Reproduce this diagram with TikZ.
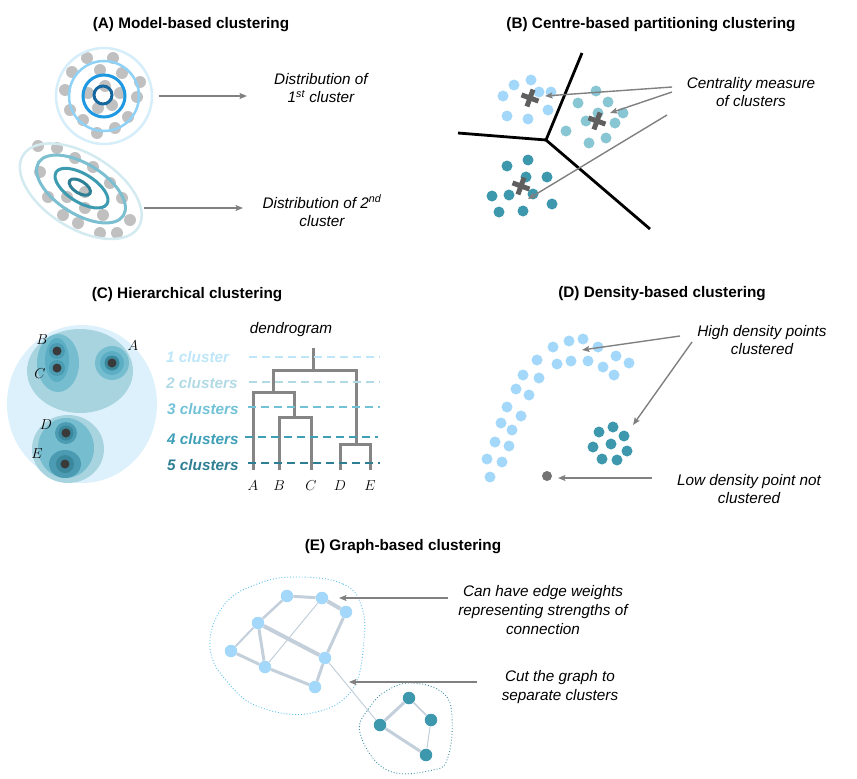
\documentclass[tikz,border=0pt]{standalone}
\usepackage{fontspec}
\setmainfont{Liberation Sans}
\usetikzlibrary{arrows.meta}

\definecolor{arrowgrey}{HTML}{808080}
\definecolor{dotgrey}{HTML}{C0C0C0}
\definecolor{ringpale}{HTML}{D5EEFA}
\definecolor{ringlight}{HTML}{8FD1F7}
\definecolor{ringmid}{HTML}{1F98E2}
\definecolor{ringdark}{HTML}{17679F}
\definecolor{ellpale}{HTML}{D3EAF0}
\definecolor{elllight}{HTML}{7BBFD0}
\definecolor{ellmid}{HTML}{3D9BB1}
\definecolor{elldark}{HTML}{2C7F94}
\definecolor{skyblue}{HTML}{A3D8FA}
\definecolor{tealmid}{HTML}{88C6D4}
\definecolor{tealdark}{HTML}{3D98AE}
\definecolor{crossgrey}{HTML}{5F5F5F}
\definecolor{treegrey}{HTML}{858585}
\definecolor{hbig}{HTML}{DCF1FB}
\definecolor{hgroup}{HTML}{A8D4E0}
\definecolor{hpair}{HTML}{76BDD0}
\definecolor{hpairin}{HTML}{5BAEC3}
\definecolor{hring}{HTML}{4B9CB2}
\definecolor{hring2}{HTML}{3B879C}
\definecolor{hcore}{HTML}{3A3A3A}
\definecolor{cl1}{HTML}{BDE6F9}
\definecolor{cl2}{HTML}{B2DAE5}
\definecolor{cl3}{HTML}{72C2D7}
\definecolor{cl4}{HTML}{3E9FB7}
\definecolor{cl5}{HTML}{2E7F93}
\definecolor{edgegrey}{HTML}{C3CFDA}
\definecolor{blobblue}{HTML}{5BC0EE}
\definecolor{blobteal}{HTML}{3C8FA3}

\begin{document}
\begin{tikzpicture}[x=1pt, y=-1pt,
    title/.style={font=\fontsize{15.3}{18}\selectfont\bfseries},
    note/.style={font=\fontsize{15.3}{18.6}\selectfont\itshape, align=center, inner sep=0pt},
    pointer/.style={draw=arrowgrey, line width=1.4pt, -{Stealth[length=7.5pt, width=6pt, inset=1.5pt]}},
    centremark/.style={draw=crossgrey, line width=5pt},
    dendro/.style={draw=treegrey, line width=3pt},
    cutline/.style={dash pattern=on 8pt off 5pt, line width=1.5pt},
    gnode/.style={circle, inner sep=0pt, minimum size=12.5pt},
    linkedge/.style={draw=edgegrey}]
\useasboundingbox (0,0) rectangle (857,779);

% (A) Model-based clustering
\node[title] (titleA) at (191,25) {(A) Model-based clustering};
\foreach \x/\y in {87/58,113/58,72/72,100/70,122/73,140/82,65/90,88/93,120/93,137/97,105/86,70/110,98/108,112/105,128/117,83/120,97/133,115/128}
  \fill[dotgrey] (\x,\y) circle (6);
\foreach \x/\y in {38/146,57/148,75/158,93/167,40/172,110/183,85/192,48/197,67/197,122/198,63/215,85/208,103/215,130/220,78/223,100/233,117/233}
  \fill[dotgrey] (\x,\y) circle (6);
\draw[ringpale, line width=2.5pt] (104,96) circle (48);
\draw[ringlight, line width=2.5pt] (104,96) circle (35);
\draw[ringmid, line width=3pt] (104,96) circle (21);
\draw[ringdark, line width=3pt] (103,95) circle (9);
\begin{scope}[rotate around={-32:(81,189)}]
  \draw[ellpale, line width=2.5pt] (82,191) ellipse [x radius=68, y radius=37];
  \draw[elllight, line width=3pt] (81,189) ellipse [x radius=50, y radius=25];
  \draw[ellmid, line width=3pt] (81,188) ellipse [x radius=30, y radius=14];
  \draw[elldark, line width=3pt] (79,188) ellipse [x radius=12, y radius=6];
\end{scope}
\node[note] (distA1) at (321,88) {Distribution of\\1\textsuperscript{st} cluster};
\node[note] (distA2) at (322,211) {Distribution of 2\textsuperscript{nd}\\cluster};
\coordinate (a1s) at (159,96);
\coordinate (a1e) at (247,96);
\coordinate (a2s) at (144,208);
\coordinate (a2e) at (243,208);
\draw[pointer] (a1s) -- (a1e);
\draw[pointer] (a2s) -- (a2e);

% (B) Centre-based partitioning clustering
\node[title] (titleB) at (651,25) {(B) Centre-based partitioning clustering};
\coordinate (vtx) at (546,140);
\draw[black, line width=2.8pt] (582,53) -- (vtx) -- (458,133);
\draw[black, line width=2.8pt] (vtx) -- (650,229);
\foreach \x/\y in {514/85,531/80,503/96,539/92,551/92,548/110,507/116,528/119}
  \fill[skyblue] (\x,\y) circle (5.5);
\foreach \x/\y in {596/91,578/103,608/102,586/121,598/113,615/123,623/113,566/131,589/143,606/138}
  \fill[tealmid] (\x,\y) circle (5.5);
\foreach \x/\y in {507/166,528/160,526/177,547/177,492/196,509/195,533/194,499/212,523/211,552/204}
  \fill[tealdark] (\x,\y) circle (5.5);
\foreach \x/\y in {530/98,597/121,521/186}
  \draw[centremark, rotate around={-20:(\x,\y)}] (\x-9,\y) -- (\x+9,\y) (\x,\y-9) -- (\x,\y+9);
\node[note] (centrality) at (751,92) {Centrality measure\\of clusters};
\coordinate (b1s) at (672,87);
\coordinate (b1e) at (545,96);
\coordinate (b2s) at (672,92);
\coordinate (b2e) at (610,113);
\coordinate (b3s) at (667,115);
\coordinate (b3e) at (528,199);
\draw[pointer] (b1s) -- (b1e);
\draw[pointer] (b2s) -- (b2e);
\draw[pointer] (b3s) -- (b3e);

% (C) Hierarchical clustering
\node[title] (titleC) at (187,295) {(C) Hierarchical clustering};
\fill[hbig] (82,404) ellipse [x radius=75, y radius=79];
\fill[hgroup] (80,371) ellipse [x radius=53, y radius=42];
\fill[hgroup] (68,449) ellipse [x radius=36, y radius=34];
\fill[hpair] (58,363) ellipse [x radius=21, y radius=29];
\fill[hpairin] (57,360) ellipse [x radius=12, y radius=22];
\fill[hpair] (112,363) circle (17);
\fill[hpairin] (112,363) circle (12);
\fill[hring2] (112,363) circle (7.5);
\fill[hpair] (66,448) ellipse [x radius=28, y radius=30];
\fill[hring] (57,351) circle (8);
\fill[hring] (57,368) circle (8);
\fill[hring] (66,433) circle (11);
\fill[hring2] (66,433) circle (7.5);
\fill[hring] (65,464) ellipse [x radius=16, y radius=14];
\fill[hring2] (65,464) circle (9);
\foreach \x/\y in {57/351,57/368,112/363,66/433,65/464}
  \fill[hcore] (\x,\y) circle (4.5);
\node[font=\fontsize{15}{18}\selectfont] (ptB) at (42,340) {$B$};
\node[font=\fontsize{15}{18}\selectfont] (ptC) at (40,374) {$C$};
\node[font=\fontsize{15}{18}\selectfont] (ptA) at (133,346) {$A$};
\node[font=\fontsize{15}{18}\selectfont] (ptD) at (46,425) {$D$};
\node[font=\fontsize{15}{18}\selectfont] (ptE) at (37,454) {$E$};
% dendrogram
\node[note] (dendrogram) at (291,330) {dendrogram};
\draw[dendro] (253,470) |- (294,392) -- (294,417);
\draw[dendro] (279,470) |- (311,417) -- (311,470);
\draw[dendro] (340,470) |- (370,444) -- (370,470);
\draw[dendro] (273,392) |- (356,370) -- (356,444);
\draw[dendro] (313,348) -- (313,370);
\foreach \n/\x in {A/253,B/279,C/311,D/340,E/370}
  \node[font=\fontsize{15}{18}\selectfont] (leaf\n) at (\x,486) {$\n$};
\draw[cutline, cl1] (249,357) -- (380,357);
\draw[cutline, cl2] (249,382) -- (380,382);
\draw[cutline, cl3] (248,407) -- (380,407);
\draw[cutline, cl4] (245,437) -- (378,437);
\draw[cutline, cl5] (248,463) -- (380,463);
\node[note, anchor=west, font=\fontsize{15.3}{18}\selectfont\bfseries\itshape, text=cl1] (k1) at (166,357) {1 cluster};
\node[note, anchor=west, font=\fontsize{15.3}{18}\selectfont\bfseries\itshape, text=cl2] (k2) at (166,383) {2 clusters};
\node[note, anchor=west, font=\fontsize{15.3}{18}\selectfont\bfseries\itshape, text=cl3] (k3) at (167,409) {3 clusters};
\node[note, anchor=west, font=\fontsize{15.3}{18}\selectfont\bfseries\itshape, text=cl4] (k4) at (167,439) {4 clusters};
\node[note, anchor=west, font=\fontsize{15.3}{18}\selectfont\bfseries\itshape, text=cl5] (k5) at (167,465) {5 clusters};

% (D) Density-based clustering
\node[title] (titleD) at (662,294) {(D) Density-based clustering};
\foreach \x/\y in {490/477,487/459,502/462,495/442,509/446,501/423,512/430,507/407,521/416,516/389,529/395,523/375,539/378,537/360,553/347,557/364,569/341,583/339,598/347,571/361,588/361,603/367,616/356,629/363,614/375}
  \fill[skyblue] (\x,\y) circle (5.5);
\foreach \x/\y in {613/427,599/432,624/436,593/447,611/444,627/451,602/459,617/460}
  \fill[tealdark] (\x,\y) circle (5.5);
\fill[arrowgrey!90!black] (547,476) circle (5);
\node[note] (highdens) at (762,340) {High density points\\clustered};
\node[note] (lowdens) at (749,489) {Low density point not\\clustered};
\coordinate (d1s) at (680,336);
\coordinate (d1e) at (582,350);
\coordinate (d2s) at (692,342);
\coordinate (d2e) at (633,425);
\coordinate (d3s) at (652,478);
\coordinate (d3e) at (558,478);
\draw[pointer] (d1s) -- (d1e);
\draw[pointer] (d2s) -- (d2e);
\draw[pointer] (d3s) -- (d3e);

% (E) Graph-based clustering
\node[title] (titleE) at (403,547) {(E) Graph-based clustering};
\draw[blobblue, dotted, line width=0.9pt] plot[smooth cycle, tension=0.7] coordinates {(300,577) (343,584) (361,605) (364,640) (352,690) (312,713) (262,708) (230,685) (210,648) (224,605) (260,583)};
\draw[blobteal, dotted, line width=0.9pt] plot[smooth cycle, tension=0.7] coordinates {(413,683) (443,693) (452,717) (448,757) (433,770) (387,770) (360,733) (370,707) (388,690)};
\node[gnode, fill=skyblue] (n1) at (287,596) {};
\node[gnode, fill=skyblue] (n2) at (322,598) {};
\node[gnode, fill=skyblue] (n3) at (346,612) {};
\node[gnode, fill=skyblue] (n4) at (258,623) {};
\node[gnode, fill=skyblue] (n5) at (231,651) {};
\node[gnode, fill=skyblue] (n6) at (265,667) {};
\node[gnode, fill=skyblue] (n7) at (325,658) {};
\node[gnode, fill=skyblue] (n8) at (315,687) {};
\node[gnode, fill=tealdark] (m1) at (409,698) {};
\node[gnode, fill=tealdark] (m2) at (380,725) {};
\node[gnode, fill=tealdark] (m3) at (431,720) {};
\node[gnode, fill=tealdark] (m4) at (426,755) {};
\draw[linkedge, line width=3pt] (n1) -- (n2);
\draw[linkedge, line width=4pt] (n2) -- (n3);
\draw[linkedge, line width=2.5pt] (n1) -- (n4);
\draw[linkedge, line width=2pt] (n4) -- (n5);
\draw[linkedge, line width=3pt] (n4) -- (n6);
\draw[linkedge, line width=4pt] (n4) -- (n7);
\draw[linkedge, line width=3pt] (n5) -- (n6);
\draw[linkedge, line width=1pt] (n6) -- (n2);
\draw[linkedge, line width=3pt] (n3) -- (n7);
\draw[linkedge, line width=3pt] (n7) -- (n8);
\draw[linkedge, line width=3pt] (n6) -- (n8);
\draw[linkedge, line width=1pt] (n7) -- (m2);
\draw[linkedge, line width=3pt] (m1) -- (m2);
\draw[linkedge, line width=1.5pt] (m1) -- (m3);
\draw[linkedge, line width=3pt] (m2) -- (m4);
\draw[linkedge, line width=1pt] (m3) -- (m4);
\node[note] (weights) at (543,610) {Can have edge weights\\representing strengths of\\connection};
\node[note] (cutgraph) at (560,687) {Cut the graph to\\separate clusters};
\coordinate (e1s) at (448,598);
\coordinate (e1e) at (339,598);
\coordinate (e2s) at (477,682);
\coordinate (e2e) at (349,682);
\draw[pointer] (e1s) -- (e1e);
\draw[pointer] (e2s) -- (e2e);
\end{tikzpicture}
\end{document}
